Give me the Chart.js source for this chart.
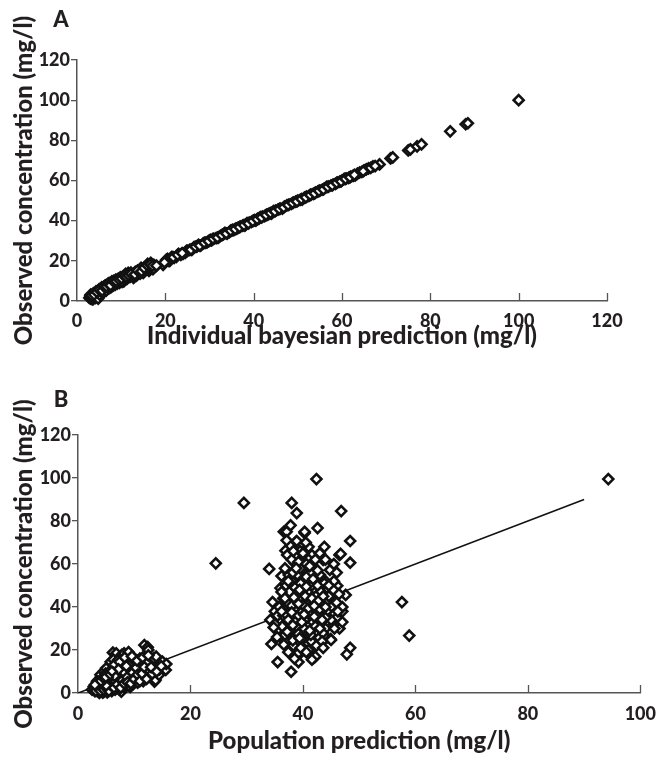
<!DOCTYPE html>
<html lang="en">
<head>
  <meta charset="UTF-8">
  <title>Observed vs predicted concentration</title>
  <script src="https://cdn.jsdelivr.net/npm/chart.js"></script>
  <style>
    html, body { margin: 0; padding: 0; background: #fff; }
    body { width: 666px; height: 760px; position: relative; overflow: hidden; }
    #boxA { position: absolute; left: 0; top: 0; width: 666px; height: 352px; }
    #boxB { position: absolute; left: 0; top: 372px; width: 666px; height: 388px; }
  </style>
</head>
<body>
  <div id="boxA"><canvas id="chartA"></canvas></div>
  <div id="boxB"><canvas id="chartB"></canvas></div>

  <script>
    // Panel A: individual bayesian prediction vs observed
    const indPred = [2.8, 3, 3.2, 3.5, 3.6, 3.8, 4, 4.2, 4.4, 4.5, 4.7, 4.9, 5.1, 5.3, 5.5, 5.8, 6, 6.2, 6.5, 6.8,
      7, 7.2, 7.5, 7.8, 8, 8.3, 8.6, 9, 9.3, 9.6, 10, 10.3, 10.6, 11, 11.3, 11.6, 12, 12.4, 12.8, 13.2,
      13.6, 14, 14.5, 15, 15.5, 16, 16.3, 16.7, 17, 17.4, 19.5, 20, 20.5, 21, 21.5, 22.5, 23, 24, 25, 26,
      27, 28, 29, 30, 31, 32, 33, 34, 35, 36, 37, 38, 39, 40, 41, 42, 43, 44, 45, 46.5,
      48, 49, 50, 51, 52, 53, 54, 55, 56, 57, 58, 59, 60, 61, 62, 63, 64, 65, 66, 67,
      68.5, 71, 71.5, 75, 75.5, 77, 78, 84.5, 88, 88.5, 100,
      24.5, 27.5, 30.5, 33.5, 36.5, 38.5, 40.5, 41.5, 43.5, 47, 26.5, 29.5, 32.5, 35.5, 44.5, 52.5, 56.5, 58.5, 60.5, 62.5,
      3.1, 3.4, 3.7, 4.1, 4.3, 4.6, 4.8, 5, 5.2, 5.4, 5.6, 5.9, 6.1, 6.4, 6.6, 6.9, 7.1, 7.4, 7.7, 7.9,
      8.2, 8.5, 8.8, 9.1, 9.4, 9.8, 10.2, 10.5, 10.9, 11.4, 11.8, 12.2, 12.6, 13, 13.4, 13.8, 14.3, 14.8, 15.3, 15.8,
      16.2, 16.5, 16.9, 17.2, 20.2, 20.8, 21.3, 22, 23.5, 24.8, 25.5, 26.2, 27.2, 28.5, 29.2, 30.2, 31.5, 32.2, 33.2, 34.5,
      35.2, 36.2, 37.5, 38.2, 39.5, 40.2, 41.2, 42.5, 43.2, 44.2, 45.5, 46, 47.5, 48.5, 49.5, 50.5, 51.5, 53.5, 54.5, 55.5,
      57.5, 59.5, 61.5, 63.5, 64.5, 65.5, 66.5, 67.5,
      3.3, 3.9, 4.5, 5.1, 5.7, 6.3, 6.7, 7.3, 7.6, 8.4, 8.9, 9.5, 10.1, 10.7, 11.2, 11.7, 12.3, 13.1, 13.7, 14.6,
      15.2, 15.9, 16.6, 17.1, 18, 19.8, 21.8, 22.8, 23.8, 25.8, 26.8, 27.8, 28.8, 29.8, 30.8, 31.8, 32.8, 33.8, 34.8, 35.8,
      36.8, 37.8, 38.8, 39.8, 40.8, 41.8, 42.8, 43.8, 44.8, 45.8, 46.8, 47.8, 48.8, 49.8, 50.8, 51.8, 52.8, 53.8, 54.8, 55.8,
      56.8, 57.8, 58.8, 59.8, 60.8, 61.8, 62.8, 64.8];
    const obsA = [1.5, 2.5, 1, 3, 0.8, 2, 3.5, 1.5, 4, 2.8, 5, 3.5, 4.6, 6, 4.2, 5.5, 7, 5, 6.5, 8,
      6.2, 7.5, 9, 7, 8.5, 10, 8, 9.5, 11, 9, 10.5, 12, 9.8, 13.5, 11, 14, 12, 13, 11.5, 14.5,
      13, 15, 16.5, 14, 17, 18.5, 15, 19, 16.5, 18, 18, 19.5, 21, 20, 22, 22, 23.5, 23.5, 25, 25.5,
      27, 27.5, 29, 30, 31, 31.5, 33, 33.5, 35, 36, 37, 37.5, 39, 40, 41, 42, 43, 43.5, 45, 46,
      48, 49, 50, 50.5, 52, 53, 54, 55, 56, 57, 58, 59, 60, 61, 62, 62.5, 64, 65, 66, 67,
      68, 71, 71.5, 75, 75.5, 77, 78, 84.5, 88, 88.5, 100,
      24, 28, 30.2, 34, 36.5, 38.8, 40, 41.8, 43.5, 47, 26.8, 29.3, 32.5, 35.3, 44.8, 52.3, 56.8, 58.3, 60.8, 62.3,
      3.2, 1.8, 3.8, 2.4, 4.8, 3.6, 1.2, 5.8, 3, 4.8, 6.8, 4, 6, 7.8, 5.2, 7, 8.8, 6.5, 8.2, 9.8,
      7.8, 9.2, 10.6, 8.6, 10, 11.8, 9.5, 11, 12.5, 12.2, 13, 14.2, 12.5, 13.8, 12.6, 14.2, 13.6, 15.2, 15.5, 16.2,
      17.5, 16, 18, 15.8, 20.5, 20, 21.5, 21.5, 23, 25, 25.5, 26, 27.2, 28.5, 29, 30.4, 31.3, 32, 33.3, 34.3,
      35.4, 36, 37.5, 38, 39.4, 40.3, 41, 42.3, 43, 44, 45.5, 46, 47.6, 48.3, 49.5, 50.3, 51.5, 53.3, 54.5, 55.4,
      57.5, 59.4, 61.3, 63.4, 64.3, 65.5, 66.3, 67.2,
      2.8, 3.2, 4.5, 5.5, 5.2, 6.8, 7.2, 8.2, 7.8, 9.5, 9.9, 10.8, 11.2, 12.5, 12, 12.8, 13.5, 13.2, 15.2, 14.8,
      16.5, 17.8, 18.2, 17.5, 17.6, 19.2, 21.8, 23, 23.8, 25.6, 27, 27.6, 29, 29.8, 31, 31.6, 32.8, 33.6, 35, 35.8,
      36.8, 37.8, 38.6, 39.8, 40.8, 41.6, 42.8, 43.8, 44.6, 45.8, 46.6, 47.8, 48.8, 49.6, 50.8, 51.6, 52.8, 53.6, 54.8, 55.6,
      56.8, 57.6, 58.8, 59.6, 60.8, 61.6, 62.8, 64.6];

    // Panel B: population prediction vs observed
    const popPred = [2.5, 2.8, 3, 3.2, 3.3, 3.5, 3.6, 3.7, 3.8, 3.9, 4, 4.1, 4.2, 4.3, 4.4, 4.5, 4.6, 4.7, 4.8, 4.9,
      5, 5.1, 5.2, 5.3, 5.4, 5.5, 5.6, 5.7, 5.8, 5.9, 6, 6.1, 6.2, 6.3, 6.4, 6.5, 6.6, 6.7, 6.8, 6.9,
      7, 7.1, 7.2, 7.3, 7.4, 7.5, 7.6, 7.7, 7.8, 7.9, 8, 8.1, 8.2, 8.3, 8.4, 8.5, 8.6, 8.7, 8.8, 8.9,
      9, 9.1, 9.2, 9.3, 9.4, 9.5, 9.6, 9.7, 9.8, 9.9, 10, 10.1, 10.3, 10.4, 10.6, 10.8, 11, 11.2, 11.5, 11.6,
      11.8, 11.9, 12.1, 12.4, 12.5, 12.7, 12.9, 13.1, 13.3, 13.5, 13.6, 13.8, 13.9, 14.2, 14.4, 14.5, 15, 15.6, 15.7, 3.4,
      4, 4.6, 5, 5.8, 6.3, 7.8, 8.2, 9, 7.1, 5.2, 6, 4.4,
      3, 3.3, 3.5, 3.8, 4, 4.2, 4.4, 4.5, 4.7, 4.9, 5, 5.1, 5.3, 5.5, 5.6, 5.8, 6, 6.2, 6.3, 6.5,
      6.6, 6.8, 7, 7.2, 7.3, 7.5, 7.6, 7.8, 8, 8.2, 8.4, 8.6, 8.8, 9, 9.2, 9.4, 9.6, 9.8, 10, 10.2,
      10.5, 10.8, 11, 11.3, 11.7, 12, 12.3, 12.6, 4.6, 5.4, 6.1, 6.9, 7.7, 8.5, 9.3, 3.6, 4.3, 5.7, 6.7, 8.7,
      10.7, 6.4, 7.4, 8.3, 9.6, 10.2, 11, 3.9, 5.5, 6.2,
      3.2, 3.6, 4, 4.3, 4.6, 4.9, 5.2, 5.5, 5.8, 6, 6.4, 6.7, 7, 7.3, 7.6, 7.9, 8.2, 8.5, 8.8, 9.1,
      9.4, 9.7, 10, 10.3, 10.6, 11, 11.4, 11.8, 12.2, 12.8, 13.2, 5, 6.5, 8, 9, 7.2, 6, 5.3, 4.7, 8.6,
      10.5, 11.5, 12.5, 13, 14, 14.8, 4.1, 3.7, 3,
      34, 34.6, 34.4, 35.5, 37.9, 38, 39.2, 41.9, 42.8, 44.2, 44.9, 42.6, 40.3, 38.8, 36.6, 36.9, 36, 36.2, 38, 38.9,
      46.8, 37.8, 37.1, 40.3, 37.1, 38.9, 48.4, 43.8, 46.5, 48.4, 46.1, 47.6, 48.4, 47.8, 45, 34.2, 35.7, 38.3, 39.2, 42.2,
      39.2, 40.4, 44.3, 43.9, 37.5, 38.6, 40.1, 41.6, 43.6, 44.8, 37.2, 42.4, 46.7, 41, 39.5, 42, 43, 45.5, 44.5, 41,
      39, 37, 35, 36, 37, 38, 39, 40, 41, 42, 43, 44, 45, 46, 47, 36.5, 37.5, 38.5, 39.5, 40.5,
      41.5, 42.5, 43.5, 36, 37, 38.5, 39.5, 40.5, 41.5, 42.5, 37.5, 38, 39, 40, 41, 42, 43, 44, 45, 46,
      38, 40, 42, 44, 36.5, 35.5, 37, 41.5, 40.8, 39.8, 38.8, 37.8, 41.2, 42.2, 43.2, 44.2, 40, 39, 41, 43,
      45, 46.5, 36.3, 35, 34.8, 38.2, 40, 41, 39.8, 42, 45.5, 46, 47, 44, 43, 40.5, 38, 39.5, 36.8, 38.3,
      36.5, 37.2, 37.8, 38.4, 38.9, 39.4, 39.9, 40.3, 40.8, 41.3, 41.8, 42.3, 42.8, 43.3, 37, 38, 39, 40, 41, 42,
      43, 44, 37.6, 38.6, 39.6, 40.6, 41.6, 42.6, 36.8, 37.8, 39.2, 40.2, 41.4, 42.4, 43.4, 35.8, 36.2, 38.2, 39.2, 40.6,
      42.2, 43.8, 44.6, 45.4, 46.4, 39.6, 40.6, 41.6, 38.5, 37.4,
      36.2, 36.8, 37.4, 38, 38.6, 39.2, 39.8, 40.4, 41, 41.6, 42.2, 42.8, 43.4, 44, 37.2, 38.2, 39.4, 40.2, 41.2, 42,
      43, 38.4, 39.4, 40.6, 41.8, 37.4, 38.8, 40, 41.2, 42.6, 43.6, 44.6, 35.4, 36.6, 43.6, 45.6, 46.2, 47,
      24.5, 29.5, 57.6, 58.9, 94.3];
    const obsB = [1.5, 3, 0.8, 2.2, 4.5, 1, 3.2, 6, 0, 2.5, 4, 7.5, 1.8, 5.2, 3, 9, 0.5, 6.5, 2.2, 4.8,
      8, 10.5, 3.5, 1.2, 6, 12, 7.8, 4.5, 2.5, 9.5, 5.5, 13.5, 18.8, 3.2, 7, 11, 1.5, 8.8, 18.4, 5,
      14.5, 10, 3, 6.8, 12.5, 16, 8, 0.6, 4.5, 10.8, 13, 6, 2.5, 9, 15, 11.5, 4, 7.5, 17, 12.5,
      5.5, 9.8, 14, 2.8, 17.7, 7, 11, 15.5, 4.2, 8.5, 12.8, 6, 15.3, 9.5, 4.8, 11.8, 7.5, 13.5, 13.8, 5.5,
      22.3, 9.2, 16.5, 21.3, 20, 9.9, 12, 7, 14.8, 16.1, 5.3, 6, 16.9, 11, 8.4, 11, 14.6, 10.7, 13.5, 5.5,
      8.5, 10, 11.5, 14.5, 15.5, 17.8, 18.5, 19, 15.3, 0.3, 0.9, 0.2,
      2, 3.5, 5, 1.5, 6, 3.8, 7, 2, 4, 9, 1.5, 6, 8.5, 3, 10, 5.5, 7.5, 2, 11.5, 4.5,
      9, 6, 12, 8, 1.8, 5, 10.5, 13.5, 3.5, 8, 11, 6.2, 13.8, 3.5, 9, 12, 6.5, 14, 8, 10.5,
      13, 7, 9.5, 11.5, 7, 10.8, 14, 8, 5.5, 4, 3.5, 8.5, 4, 5, 7.5, 1.5, 0.8, 1.8, 2.8, 9.8,
      11, 13, 14.5, 16.5, 17, 13.5, 16, 4.2, 7, 9.5,
      1, 2.5, 1, 3.2, 1.5, 2.8, 5, 1, 3.8, 6.5, 2.5, 5.5, 4, 7, 2.5, 6, 4.5, 8, 5, 11,
      4.5, 9.5, 6.5, 11.8, 8.5, 5.5, 9, 12, 6.5, 10, 9, 3.5, 8, 10, 13, 11, 10, 7.5, 6.8, 12.5,
      15, 16.5, 17.5, 12, 10, 12.5, 5, 4.6, 3.8,
      57.7, 42.3, 22.8, 14.4, 9.9, 21.4, 17.7, 16.3, 26, 25.6, 25.1, 76.7, 74.4, 70.4, 75, 66.2, 48.8, 54.4, 88.4, 83.7,
      84.6, 78, 75, 75, 71, 70.7, 70.7, 68, 64.2, 60.6, 49.9, 45.6, 21, 18, 24.7, 34, 28.5, 22, 18.6, 16.9,
      14.4, 26.2, 33.2, 38.6, 54.9, 60.3, 63.4, 64.2, 61.9, 57.2, 64.2, 99.5, 64.7, 68, 66, 58, 55, 52, 48, 52,
      50, 45, 38, 33, 30, 35, 40, 44, 47, 42, 36, 30, 40, 35, 38, 40, 38, 42, 36, 32,
      38, 34, 28, 26, 24, 28, 30, 28, 24, 30, 32, 46, 55, 58, 62, 48, 44, 42, 45, 42,
      52, 50, 52, 52, 44, 36, 50, 56, 40, 46, 37, 41, 35, 39, 47, 38, 36, 33, 31, 32,
      34, 30, 31, 32, 30.5, 24.5, 21, 20, 25, 28, 60, 56, 40, 62, 65, 70, 62, 58, 58, 66,
      36, 42, 33, 39, 31, 44, 38, 34, 47, 42, 33, 45, 37, 41, 36.5, 40.5, 35.5, 41, 37, 35.5,
      39, 35, 47, 49, 51, 54, 50, 57, 27, 29, 27.5, 30, 27, 22, 24, 40, 47, 56, 61, 60,
      62, 51, 45, 48, 46, 21, 19, 15.5, 16, 19,
      38, 44, 34, 37.5, 33, 41.5, 33, 45, 39.5, 44, 31, 43, 34, 40, 28.5, 31.5, 25.5, 36.5, 29, 40.5,
      30, 44.5, 48, 49.5, 53, 52, 58, 65, 59, 50, 45, 50, 26, 22.5, 21, 30, 38, 33,
      60.3, 88.4, 42.3, 26.7, 99.5];

    // line of identity
    const unityX = [0, 90];
    const unityY = [0, 90];

    const ticksA = [0, 20, 40, 60, 80, 100, 120];
    const ticksBx = [0, 20, 40, 60, 80, 100];
    const ticksBy = [0, 20, 40, 60, 80, 100, 120];

    const ink = '#231f20';
    const axisGray = '#555';
    const fontFam = 'Lato, "Open Sans", sans-serif';
    const heavy = '900';

    const toPoints = (xs, ys) => xs.map((x, i) => ({ x: x, y: ys[i] }));

    // draws the panel letter and the inward x ticks
    const panelPlugin = {
      id: 'panel',
      afterDraw(chart, args, opts) {
        const ctx = chart.ctx;
        const xs = chart.scales.x;
        const bottom = chart.chartArea.bottom;
        ctx.save();
        ctx.strokeStyle = axisGray;
        ctx.lineWidth = 1.3;
        xs.ticks.forEach(t => {
          const px = Math.round(xs.getPixelForValue(t.value)) + 0.5;
          if (t.value === 0) return;
          ctx.beginPath();
          ctx.moveTo(px, bottom);
          ctx.lineTo(px, bottom - opts.tickLen);
          ctx.stroke();
        });
        ctx.fillStyle = ink;
        ctx.font = heavy + ' 22px ' + fontFam;
        ctx.textAlign = 'center';
        ctx.textBaseline = 'middle';
        ctx.fillText(opts.letter, opts.x, opts.y);
        ctx.restore();
      }
    };

    function makeChart(id, cfg) {
      return new Chart(document.getElementById(id), {
        type: 'scatter',
        data: {
          datasets: cfg.datasets
        },
        options: {
          responsive: true,
          maintainAspectRatio: false,
          animation: false,
          layout: { padding: cfg.padding },
          plugins: {
            legend: { display: false },
            tooltip: { enabled: false },
            panel: cfg.panel
          },
          scales: {
            x: {
              type: 'linear',
              min: cfg.xMin, max: cfg.xMax,
              afterBuildTicks: s => { s.ticks = cfg.xTicks.map(v => ({ value: v })); },
              afterFit: s => { s.height = cfg.xHeight; },
              grid: { display: false, drawTicks: false },
              border: { display: true, color: axisGray, width: 1.5 },
              ticks: {
                color: ink, padding: cfg.xTickPad, maxRotation: 0, autoSkip: false,
                font: { family: fontFam, size: 18, weight: heavy }
              },
              title: {
                display: true, text: cfg.xTitle, color: ink,
                padding: { top: 0, bottom: cfg.xTitlePad },
                font: { family: fontFam, size: 24, weight: heavy }
              }
            },
            y: {
              type: 'linear',
              min: 0, max: 120,
              afterBuildTicks: s => { s.ticks = cfg.yTicks.map(v => ({ value: v })); },
              afterFit: s => { s.width = cfg.yWidth; },
              grid: { drawOnChartArea: false, drawTicks: true, tickLength: 6, color: axisGray, lineWidth: 1.3 },
              border: { display: true, color: axisGray, width: 1.5 },
              ticks: {
                color: ink, padding: 1, autoSkip: false,
                font: { family: fontFam, size: 18, weight: heavy }
              },
              title: {
                display: true, text: 'Observed concentration (mg/l)', color: ink,
                padding: { top: 10, bottom: 0 },
                font: { family: fontFam, size: 24, weight: heavy }
              }
            }
          }
        },
        plugins: [panelPlugin]
      });
    }

    const pointStyle = {
      pointStyle: 'rectRot',
      pointRadius: 5,
      pointBorderWidth: 2.6,
      borderColor: '#111',
      backgroundColor: '#fff',
      clip: false
    };

    makeChart('chartA', {
      datasets: [Object.assign({ data: toPoints(indPred, obsA) }, pointStyle)],
      padding: { top: 60, right: 59, bottom: 0, left: 0 },
      xMin: 0, xMax: 120, xTicks: ticksA, yTicks: ticksA,
      xHeight: 51, yWidth: 77, xTickPad: 9, xTitlePad: 1,
      xTitle: 'Individual bayesian prediction (mg/l)',
      panel: { letter: 'A', x: 61, y: 20, tickLen: 8 }
    });

    makeChart('chartB', {
      datasets: [
        Object.assign({ data: toPoints(popPred, obsB) }, pointStyle),
        {
          type: 'line',
          data: toPoints(unityX, unityY),
          borderColor: '#111',
          borderWidth: 1.6,
          pointRadius: 0,
          fill: false
        }
      ],
      padding: { top: 63, right: 22, bottom: 0, left: 0 },
      xMin: 0, xMax: 100, xTicks: ticksBx, yTicks: ticksBy,
      xHeight: 67, yWidth: 78, xTickPad: 10, xTitlePad: 4,
      xTitle: 'Population prediction (mg/l)',
      panel: { letter: 'B', x: 61, y: 28, tickLen: 8 }
    });
  </script>
</body>
</html>
